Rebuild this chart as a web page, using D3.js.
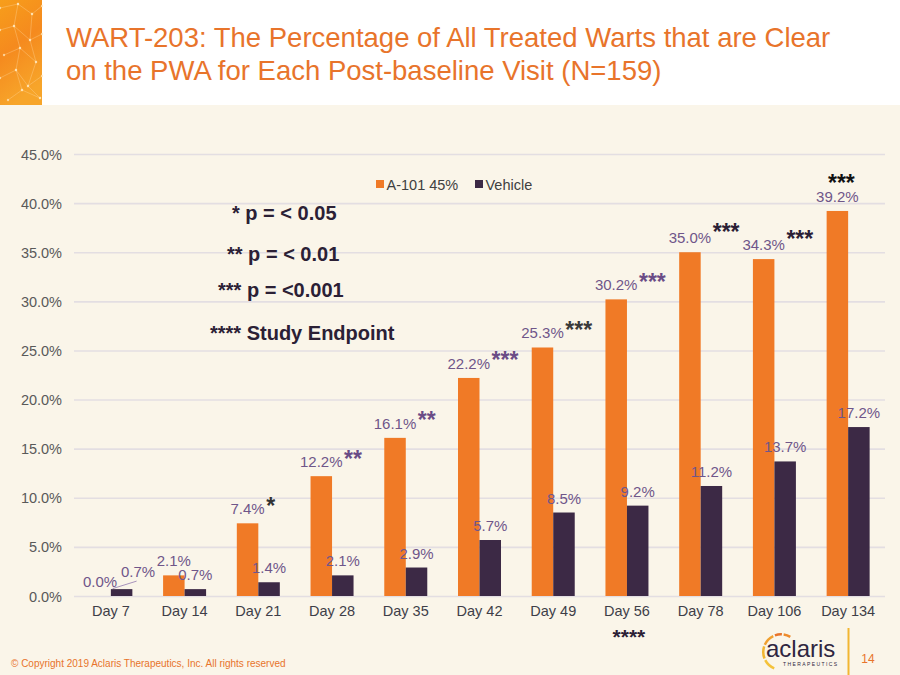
<!DOCTYPE html>
<html>
<head>
<meta charset="utf-8">
<script src="https://cdn.jsdelivr.net/npm/d3@7"></script>
<style>
  html, body { margin: 0; padding: 0; background: #ffffff; }
  svg { display: block; font-family: Arial, "Liberation Sans", sans-serif; }
</style>
</head>
<body>
<svg id="chart" width="900" height="675"></svg>
<script>
// ---------------- DATA ----------------
const categories = ["Day 7", "Day 14", "Day 21", "Day 28", "Day 35", "Day 42", "Day 49", "Day 56", "Day 78", "Day 106", "Day 134"];
const seriesNames = ["A-101 45%", "Vehicle"];
const a101Values = [0.0, 2.1, 7.4, 12.2, 16.1, 22.2, 25.3, 30.2, 35.0, 34.3, 39.2];
const vehicleValues = [0.7, 0.7, 1.4, 2.1, 2.9, 5.7, 8.5, 9.2, 11.2, 13.7, 17.2];
const significance = ["", "", "*", "**", "**", "***", "***", "***", "***", "***", "***"];
const yTickValues = [0, 5, 10, 15, 20, 25, 30, 35, 40, 45];
const endpointCategory = "Day 56";
const pValueNotes = ["* p = < 0.05", "** p = < 0.01", "*** p = <0.001", "**** Study Endpoint"];
const titleLines = ["WART-203: The Percentage of All Treated Warts that are Clear", "on the PWA for Each Post-baseline Visit (N=159)"];

// ---------------- STYLE ----------------
const ORANGE = "#F07A26";
const PURPLE_DARK = "#3C2945";
const LABEL_PURPLE = "#6F5689";
const TITLE_ORANGE = "#E8742B";
const starColor = {
  "Day 21": "#333333", "Day 28": "#6A4C86", "Day 35": "#6A4C86", "Day 42": "#6A4C86",
  "Day 49": "#3a3a3a", "Day 56": "#6A4C86", "Day 78": "#2B2035", "Day 106": "#2B2035", "Day 134": "#111111"
};

const svg = d3.select("#chart");
const W = 900, H = 675;

// background
svg.append("rect").attr("width", W).attr("height", H).attr("fill", "#ffffff");
svg.append("rect").attr("x", 0).attr("y", 105).attr("width", W).attr("height", H - 105).attr("fill", "#FAF5E9");

// decorative strip top-left
const defs = svg.append("defs");
const g1 = defs.append("linearGradient").attr("id", "strip").attr("x1", 0).attr("y1", 0).attr("x2", 0.3).attr("y2", 1);
g1.append("stop").attr("offset", "0%").attr("stop-color", "#F79E1B");
g1.append("stop").attr("offset", "50%").attr("stop-color", "#F58A1E");
g1.append("stop").attr("offset", "100%").attr("stop-color", "#F7A52A");
svg.append("rect").attr("x", 0).attr("y", 0).attr("width", 42).attr("height", 105).attr("fill", "url(#strip)");
const net = [[0,8,18,4,32,14,42,6],[0,30,14,26,30,40,42,34],[4,55,20,48,36,62],[0,78,16,70,28,86,42,76],[8,100,22,90,40,98],[18,4,14,26,20,48,16,70,22,90],[32,14,30,40,36,62,28,86,40,98]];
net.forEach(p => {
  const pts = [];
  for (let i = 0; i < p.length; i += 2) pts.push([p[i], p[i+1]]);
  svg.append("path").attr("d", d3.line()(pts)).attr("fill", "none").attr("stroke", "#FFD9A0").attr("stroke-opacity", 0.5).attr("stroke-width", 0.7);
  pts.forEach(q => svg.append("circle").attr("cx", q[0]).attr("cy", q[1]).attr("r", 1.2).attr("fill", "#FFE6B8").attr("opacity", 0.75));
});

// title
svg.append("g").selectAll("text").data(titleLines).join("text")
  .attr("x", 66).attr("y", (d, i) => 47 + i * 33)
  .attr("fill", TITLE_ORANGE).attr("font-size", 27.5).text(d => d);

// ---------------- SCALES ----------------
const plotLeft = 74, plotRight = 885, plotTop = 154, plotBottom = 596;
const x = d3.scaleBand().domain(categories).range([plotLeft, plotRight]).padding(0);
const groupWidth = 43;
const x1 = d3.scaleBand().domain(seriesNames).range([-groupWidth / 2, groupWidth / 2]).padding(0);
const y = d3.scaleLinear().domain([0, 45]).range([plotBottom, plotTop]);

// gridlines
const grid = svg.append("g").attr("transform", `translate(${plotLeft},0)`)
  .call(d3.axisLeft(y).tickValues(yTickValues).tickSize(-(plotRight - plotLeft)).tickFormat(""));
grid.select(".domain").remove();
grid.selectAll("line").attr("stroke", "#E3DEE2").attr("stroke-width", 1.6);

// y axis labels
const yAxis = svg.append("g").attr("transform", `translate(62,0)`)
  .call(d3.axisLeft(y).tickValues(yTickValues).tickSize(0).tickPadding(0).tickFormat(d => d.toFixed(1) + "%"));
yAxis.select(".domain").remove();
yAxis.selectAll("text").attr("font-size", 14.5).attr("fill", "#595959").attr("font-family", "Arial, 'Liberation Sans', sans-serif").attr("dy", "0.35em");

// x axis labels
const xAxis = svg.append("g").attr("transform", `translate(0,${plotBottom})`)
  .call(d3.axisBottom(x).tickSize(0).tickPadding(0));
xAxis.select(".domain").remove();
xAxis.selectAll("text").attr("font-size", 14.5).attr("fill", "#3E3E48").attr("font-family", "Arial, 'Liberation Sans', sans-serif").attr("dy", null).attr("y", 20);

// ---------------- BARS ----------------
const rows = categories.map((c, i) => ({ cat: c, values: [a101Values[i], vehicleValues[i]], sig: significance[i] }));
const colors = [ORANGE, PURPLE_DARK];
const barG = svg.append("g");
rows.forEach(r => {
  r.values.forEach((v, si) => {
    barG.append("rect")
      .attr("x", x(r.cat) + x.bandwidth() / 2 + x1(seriesNames[si]))
      .attr("y", y(v))
      .attr("width", x1.bandwidth())
      .attr("height", y(0) - y(v))
      .attr("fill", colors[si]);
  });
});

// ---------------- DATA LABELS ----------------
const labelG = svg.append("g").attr("font-size", 15).attr("fill", LABEL_PURPLE).attr("text-anchor", "middle");
rows.forEach((r, ri) => {
  r.values.forEach((v, si) => {
    let cx = x(r.cat) + x.bandwidth() / 2 + x1(seriesNames[si]) + x1.bandwidth() / 2;
    let by = y(v) - 9;
    if (ri === 0 && si === 1) {
      // moved label with leader line
      const bx = cx, btop = y(v);
      cx += 16.5; by -= 3.5;
      svg.append("line").attr("x1", bx - 9).attr("y1", btop - 0.5).attr("x2", cx - 1.5).attr("y2", by + 4.5)
        .attr("stroke", "#A893BC").attr("stroke-width", 1);
    }
    const t = labelG.append("text").attr("x", cx).attr("y", by).text(v.toFixed(1) + "%");
    if (si === 0 && r.sig) {
      const w = t.node().getComputedTextLength();
      const sg = svg.append("text").attr("font-size", 23).attr("font-weight", "bold").attr("fill", starColor[r.cat]).text(r.sig);
      if (ri === rows.length - 1) {
        sg.attr("x", cx + 4).attr("y", by - 11).attr("text-anchor", "middle");
      } else {
        const extra = (v >= 34) ? 3 : 0.5;
        sg.attr("x", cx + w / 2 + 1.5).attr("y", by - extra);
      }
    }
  });
});

// study endpoint marker
svg.append("text").attr("x", x(endpointCategory) + x.bandwidth() / 2 + 2).attr("y", 644)
  .attr("text-anchor", "middle").attr("font-size", 21).attr("font-weight", "bold").attr("fill", "#2B2035").text("****");

// ---------------- LEGEND ----------------
const legend = svg.append("g");
const legendX = [376, 475];
seriesNames.forEach((s, i) => {
  legend.append("rect").attr("x", legendX[i]).attr("y", 180).attr("width", 8).attr("height", 8).attr("fill", colors[i]);
  legend.append("text").attr("x", legendX[i] + 10.5).attr("y", 190).attr("font-size", 14.5).attr("fill", "#404040").text(s);
});

// p-value notes
const noteX = [232, 227, 218, 210];
const noteY = [220, 261, 297, 340];
svg.append("g").selectAll("text").data(pValueNotes).join("text")
  .attr("x", (d, i) => noteX[i]).attr("y", (d, i) => noteY[i])
  .attr("font-size", 20).attr("font-weight", "bold").attr("fill", "#2B2035").text(d => d);

// ---------------- FOOTER ----------------
svg.append("text").attr("x", 11).attr("y", 667).attr("font-size", 10).attr("fill", TITLE_ORANGE)
  .text("\u00A9 Copyright 2019 Aclaris Therapeutics, Inc. All rights reserved");

// logo
const logo = svg.append("g");
const arc = d3.arc().innerRadius(16.5).outerRadius(19);
const segs = [[-0.35, 0.05, "#E8742B"], [0.15, 0.55, "#EE8A2A"], [-1.15, -0.45, "#F0A030"], [-1.95, -1.25, "#F2B632"], [-2.75, -2.05, "#F4C23A"]];
segs.forEach(s => {
  logo.append("path").attr("transform", "translate(781,652)")
    .attr("d", arc({ startAngle: s[0], endAngle: s[1] })).attr("fill", s[2]);
});
logo.append("text").attr("x", 766).attr("y", 657).attr("font-size", 24).attr("fill", "#2F2640").attr("font-weight", 500).text("aclaris");
logo.append("text").attr("x", 783).attr("y", 666).attr("font-size", 5).attr("letter-spacing", 1.4).attr("fill", "#2F2640").text("THERAPEUTICS");
svg.append("line").attr("x1", 848.5).attr("x2", 848.5).attr("y1", 628).attr("y2", 675).attr("stroke", "#F2B632").attr("stroke-width", 2);
svg.append("text").attr("x", 868).attr("y", 663).attr("text-anchor", "middle").attr("font-size", 12).attr("fill", TITLE_ORANGE).text("14");
</script>
</body>
</html>
